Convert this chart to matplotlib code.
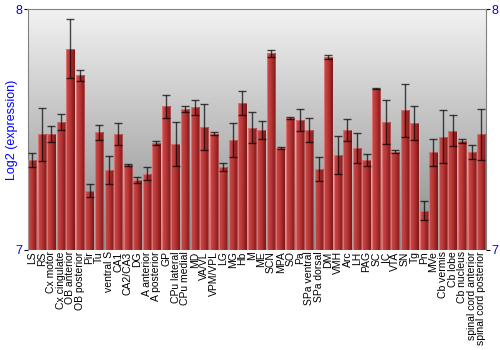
import numpy as np
import matplotlib
matplotlib.use("Agg")
import matplotlib.pyplot as plt
from matplotlib.colors import LinearSegmentedColormap

# 脳部位ごとの発現量 (log2)
regions = [
    "LS", "RS", "Cx motor", "Cx cingulate", "OB anterior", "OB posterior",
    "Pir", "Tu", "ventral S", "CA1", "CA2/CA3", "DG", "A anterior",
    "A posterior", "GP", "CPu lateral", "CPu medial", "MD", "VA/VL",
    "VPM/VPL", "LG", "MG", "Hb", "M", "ME", "SCN", "MPA", "SO", "Pa",
    "SPa ventral", "SPa dorsal", "DM", "VMH", "Arc", "LH", "PAG", "SC",
    "IC", "VTA", "SN", "Tg", "Pn", "MVe", "Cb vermis", "Cb lobe",
    "Cb nucleus", "spinal cord anterior", "spinal cord posterior",
]
values = [
    7.373, 7.481, 7.481, 7.532, 7.835, 7.725, 7.245, 7.488, 7.332, 7.481,
    7.353, 7.290, 7.317, 7.443, 7.596, 7.440, 7.585, 7.592, 7.509, 7.483,
    7.343, 7.456, 7.610, 7.507, 7.498, 7.817, 7.423, 7.549, 7.539, 7.498,
    7.337, 7.800, 7.394, 7.499, 7.423, 7.373, 7.669, 7.531, 7.407, 7.580,
    7.526, 7.162, 7.405, 7.470, 7.495, 7.452, 7.405, 7.481,
]
errors = [
    0.030, 0.110, 0.032, 0.033, 0.122, 0.024, 0.027, 0.031, 0.057, 0.047,
    0.003, 0.012, 0.026, 0.008, 0.048, 0.091, 0.012, 0.030, 0.095, 0.005,
    0.016, 0.069, 0.048, 0.065, 0.037, 0.015, 0.003, 0.004, 0.046, 0.051,
    0.050, 0.008, 0.080, 0.046, 0.061, 0.024, 0.002, 0.093, 0.006, 0.111,
    0.070, 0.039, 0.056, 0.110, 0.064, 0.007, 0.029, 0.106,
]
y_ticks = [7, 8]

plt.rcParams["font.family"] = ["Liberation Sans", "DejaVu Sans"]

fig = plt.figure(figsize=(5, 3.5), dpi=100)
ax = fig.add_axes([0.055, 0.286, 0.917, 0.688])

# 背景のグラデーション
bg = LinearSegmentedColormap.from_list("bg", ["#8a8a8a", "#f2f2f2"])
ax.imshow(np.linspace(0, 1, 256).reshape(-1, 1), cmap=bg, origin="lower",
          extent=[0, 1, 0, 1], transform=ax.transAxes, aspect="auto", zorder=0)

x = np.arange(len(regions))
bars = ax.bar(x, np.array(values) - 7, bottom=7, width=0.87,
              color="none", edgecolor=(1, 0.75, 0.75, 0.35), linewidth=0.8,
              zorder=3)

# 棒の横方向グラデーション
barcm = LinearSegmentedColormap.from_list("bar", ["#cc4b4b", "#b53434", "#7a1414"])
grad = np.linspace(0, 1, 64).reshape(1, -1)
for p in bars:
    x0, y0 = p.get_x(), p.get_y()
    im = ax.imshow(grad, cmap=barcm, aspect="auto",
                   extent=[x0, x0 + p.get_width(), y0, y0 + p.get_height()],
                   zorder=2)
    im.set_clip_path(p)

ax.errorbar(x, values, yerr=errors, fmt="none", ecolor="black", alpha=0.7,
            elinewidth=1.0, capsize=3, capthick=1.0, zorder=4)

ax.set_xlim(-0.5, len(regions) - 0.5)
ax.set_ylim(7, 8)
ax.set_xticks(x)
ax.set_xticklabels(regions, rotation=90, fontsize=7.5)
ax.tick_params(axis="x", length=0, pad=1)
ax.set_yticks(y_ticks)
ax.tick_params(axis="y", colors="black", labelcolor="blue", labelsize=9,
               length=3, width=0.8, pad=1, right=True, labelright=True)
ax.set_ylabel("Log2 (expression)", color="blue", fontsize=9, labelpad=-2)

for s in ["left", "top", "right"]:
    ax.spines[s].set_color("#808080")
ax.spines["bottom"].set_visible(False)

fig.savefig("out.png", dpi=100)
